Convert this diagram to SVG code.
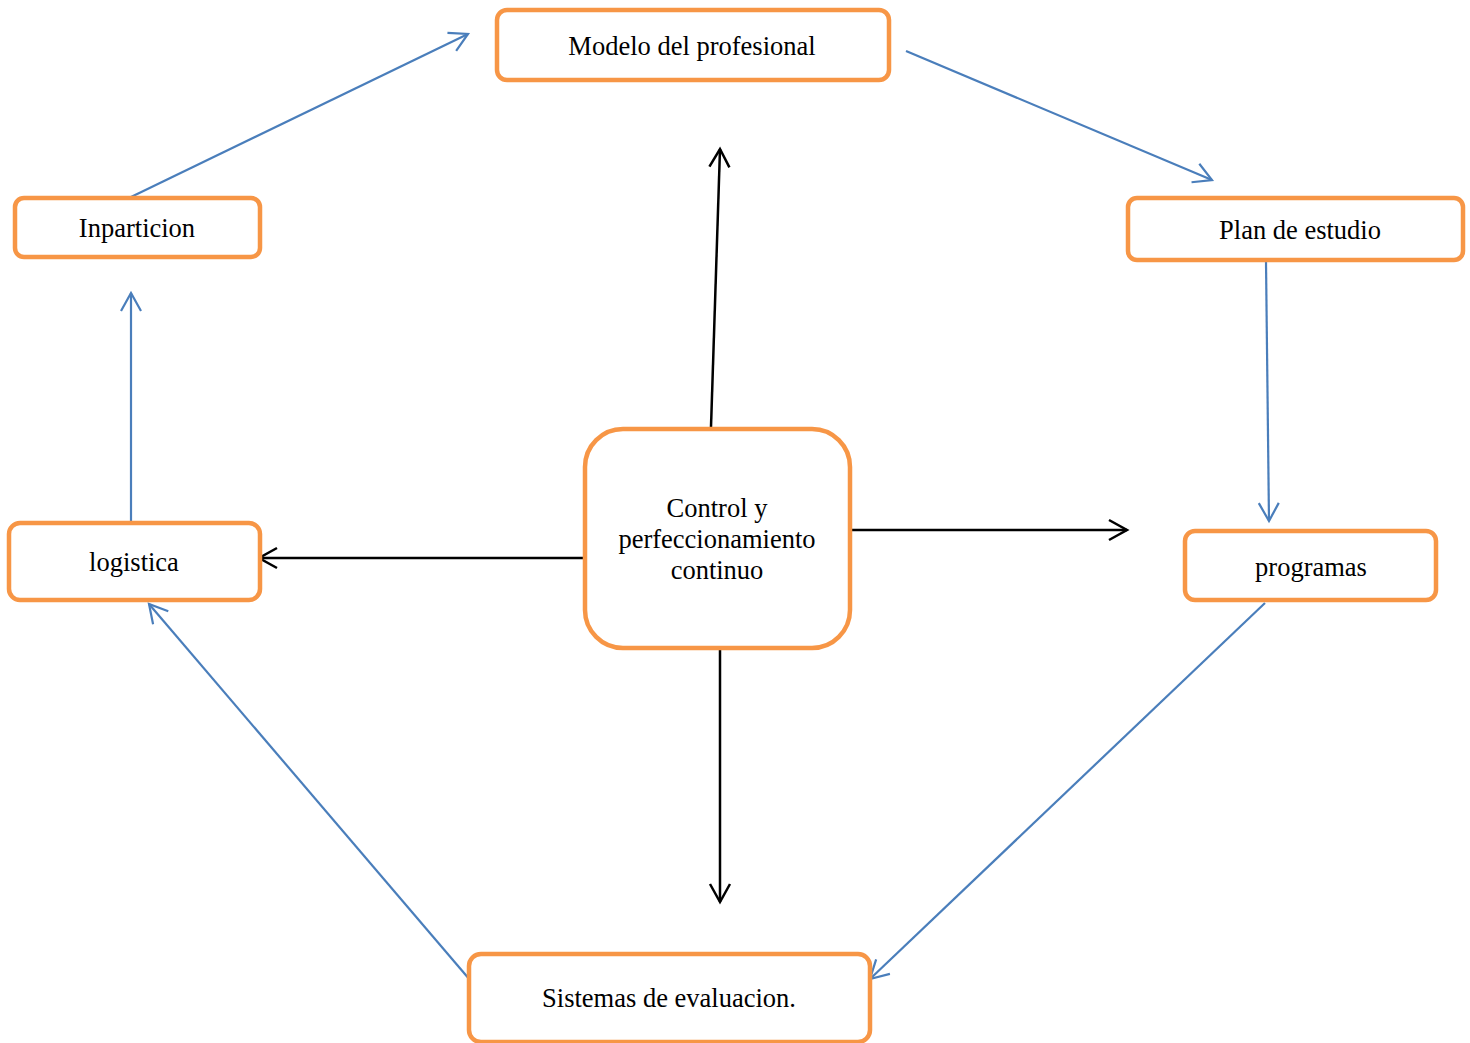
<svg xmlns="http://www.w3.org/2000/svg" width="1470" height="1043" viewBox="0 0 1470 1043">
<style>
.box{fill:#fff;stroke:#F79646;stroke-width:4.5}
.lbl{font-family:"Liberation Serif","Times New Roman",serif;font-size:26.5px;fill:#000;text-anchor:middle}
.blue{stroke:#4A7EBB;stroke-width:2.2;fill:none}
.black{stroke:#000;stroke-width:2.5;fill:none}
</style>
<defs>
<marker id="ab" viewBox="-22 -12 24 24" refX="0" refY="0" markerWidth="24" markerHeight="24" markerUnits="userSpaceOnUse" orient="auto" overflow="visible">
<path d="M-18,-10 L0,0 L-18,10" fill="none" stroke="#4A7EBB" stroke-width="2.2"/>
</marker>
<marker id="ak" viewBox="-22 -12 24 24" refX="0" refY="0" markerWidth="24" markerHeight="24" markerUnits="userSpaceOnUse" orient="auto" overflow="visible">
<path d="M-18,-10 L0,0 L-18,10" fill="none" stroke="#000" stroke-width="2.5"/>
</marker>
</defs>
<g id="connectors">
<line class="blue" x1="131" y1="197" x2="468" y2="34" marker-end="url(#ab)"/>
<line class="blue" x1="906" y1="51" x2="1212" y2="180" marker-end="url(#ab)"/>
<line class="blue" x1="1266" y1="262" x2="1269" y2="521" marker-end="url(#ab)"/>
<line class="blue" x1="1265" y1="603" x2="870" y2="979" marker-end="url(#ab)"/>
<line class="blue" x1="470" y1="980" x2="149" y2="604" marker-end="url(#ab)"/>
<line class="blue" x1="131" y1="521" x2="131" y2="293" marker-end="url(#ab)"/>
<line class="black" x1="711" y1="427" x2="720" y2="149" marker-end="url(#ak)"/>
<line class="black" x1="851" y1="530" x2="1127" y2="530" marker-end="url(#ak)"/>
<line class="black" x1="583" y1="558" x2="259" y2="558" marker-end="url(#ak)"/>
<line class="black" x1="720" y1="648" x2="720" y2="902" marker-end="url(#ak)"/>
</g>
<g id="modelo">
<rect class="box" x="497" y="10" width="392" height="70" rx="10"/>
<text class="lbl" x="692" y="55">Modelo del profesional</text>
</g>
<g id="inparticion">
<rect class="box" x="15" y="198" width="245" height="59" rx="9"/>
<text class="lbl" x="137" y="237">Inparticion</text>
</g>
<g id="plan">
<rect class="box" x="1128" y="198" width="335" height="62" rx="9"/>
<text class="lbl" x="1300" y="239">Plan de estudio</text>
</g>
<g id="control">
<rect class="box" x="585" y="429" width="265" height="219" rx="38"/>
<text class="lbl" x="717" y="517">Control y</text>
<text class="lbl" x="717" y="548">perfeccionamiento</text>
<text class="lbl" x="717" y="579">continuo</text>
</g>
<g id="logistica">
<rect class="box" x="9" y="523" width="251" height="77" rx="11"/>
<text class="lbl" x="134" y="571">logistica</text>
</g>
<g id="programas">
<rect class="box" x="1185" y="531" width="251" height="69" rx="10"/>
<text class="lbl" x="1311" y="576">programas</text>
</g>
<g id="sistemas">
<rect class="box" x="469" y="954" width="401" height="88" rx="12"/>
<text class="lbl" x="669" y="1007">Sistemas de evaluacion.</text>
</g>
</svg>
